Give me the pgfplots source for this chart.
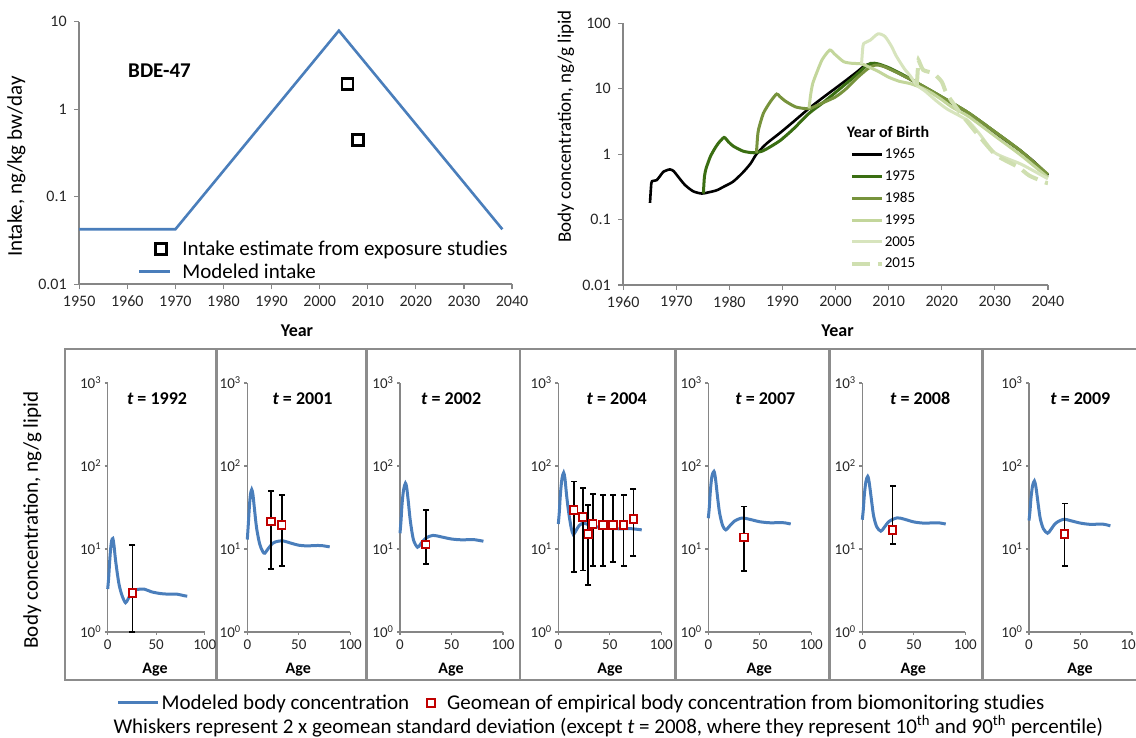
\documentclass[border=0pt]{standalone}
\usepackage{fontspec}
\setmainfont{Carlito}
\usepackage{pgfplots}
\pgfplotsset{compat=1.18}
\newcommand{\tf}{\fontsize{16}{18}\selectfont}
\newcommand{\tfs}{\fontsize{15}{17}\selectfont}
\definecolor{axgray}{HTML}{868686}
\definecolor{framegray}{HTML}{8C8C8C}
\definecolor{mblue}{HTML}{4A7EBB}
\definecolor{mred}{HTML}{C00000}
\definecolor{gA}{HTML}{3A6E12}
\definecolor{gB}{HTML}{77933C}
\definecolor{gC}{HTML}{C3D69B}
\definecolor{gD}{HTML}{D7E4BD}
\definecolor{gE}{HTML}{CFDFB0}
\pgfplotsset{
  every axis/.append style={scale only axis, axis lines*=left,
    axis line style={draw=axgray, line width=1.6pt, -},
    tick style={draw=axgray, line width=1.3pt}, tick align=outside,
    major tick length=5pt, clip=false, ymode=log, yminorticks=false, xminorticks=false,
    xticklabel shift=3pt, yticklabel shift=4pt,
    xticklabel style={text=black!85}, yticklabel style={text=black!85},
    legend cell align=left},
  mycurve/.style={mblue, line width=3pt, smooth, tension=0.5},
  mywhisk/.style={black, line width=1.8pt, mark=-, mark size=3pt, mark options={line width=1.8pt, solid}, unbounded coords=jump},
  mygeo/.style={only marks, mark=square*, mark size=3.8pt, mark options={draw=mred, fill=white, line width=1.8pt}},
  legLine/.style={legend image code/.code={\draw[##1, sharp plot] (0pt,0pt) -- (#1,0pt);}},
  legMark/.style={legend image code/.code={\draw[##1] plot coordinates {(#1,0pt)};}},
  legMarkB/.style={legend image code/.code={\draw[##1] plot coordinates {(5pt,0pt)}; \node[inner sep=0pt, minimum size=0pt, draw=none, fill=none] at (#1,0pt) {};}},
}
\begin{document}
\begin{tikzpicture}
\useasboundingbox (0pt,0pt) rectangle (1136pt,737pt);

% ---------------- top-left: intake ----------------
\begin{axis}[anchor=south west, at={(79.2pt,452.7pt)}, width=432.8pt, height=262.6pt,
  xmin=1950, xmax=2040, ymin=0.01, ymax=10,
  xtick={1950,1960,1970,1980,1990,2000,2010,2020,2030,2040},
  xticklabels={\tf 1950,\tf 1960,\tf 1970,\tf 1980,\tf 1990,\tf 2000,\tf 2010,\tf 2020,\tf 2030,\tf 2040},
  ytick={0.01,0.1,1,10}, yticklabels={\tf 0.01,\tf 0.1,\tf 1,\tf 10},
  legend style={at={(0.135,0.0906)}, anchor=west, draw=none, fill=none, inner sep=0pt,
    font=\fontsize{21}{23}\selectfont, row sep=2.4pt,
    /tikz/every odd column/.append style={column sep=9pt}}]
\addplot[only marks, mark=square, mark size=5.5pt, mark options={line width=2.8pt, black}, legMark=22pt]
  coordinates {(2005.8,1.95) (2008.0,0.447)};
\addlegendentry{Intake estimate from exposure studies}
\addplot[mblue, line width=2.6pt, legLine=31pt]
  coordinates {(1950,0.0425) (1970,0.0425) (2004,7.9) (2038,0.0425)};
\addlegendentry{Modeled intake}
\end{axis}
\node[font=\fontsize{21}{23}\selectfont\bfseries] at (159.5pt,666pt) {BDE-47};
\node[font=\fontsize{18}{20}\selectfont\bfseries] at (297pt,406pt) {Year};
\node[rotate=90, font=\fontsize{21}{23}\selectfont] at (16.5pt,570.3pt) {Intake, ng/kg bw/day};

% ---------------- top-right: body concentration by year of birth ----------------
\begin{axis}[anchor=south west, at={(623.2pt,452pt)}, width=424.7pt, height=261.7pt,
  xmin=1960, xmax=2040, ymin=0.01, ymax=100,
  xtick={1960,1970,1980,1990,2000,2010,2020,2030,2040},
  xticklabels={\tf 1960,\tf 1970,\tf 1980,\tf 1990,\tf 2000,\tf 2010,\tf 2020,\tf 2030,\tf 2040},
  ytick={0.01,0.1,1,10,100}, yticklabels={\tf 0.01,\tf 0.1,\tf 1,\tf 10,\tf 100},
  legend style={at={(0.533,0.2904)}, anchor=west, draw=none, fill=none, inner sep=0pt,
    font=\fontsize{15}{17}\selectfont, row sep=8.4pt, nodes={inner sep=1pt}}]
\addplot[black, line width=2.6pt, smooth, tension=0.4, legLine=30pt] coordinates {
(1965.05,0.18) (1965.3,0.36) (1965.6,0.39) (1966.3,0.40) (1967.0,0.47) (1967.6,0.54)
(1968.8,0.585) (1969.5,0.55) (1970.1,0.48) (1971.6,0.34) (1973.2,0.27) (1974.8,0.25)
(1976.0,0.26) (1977.6,0.28) (1979.0,0.32) (1980.7,0.38) (1982.5,0.52) (1984.0,0.72)
(1985.1,1.0) (1987.0,1.45) (1989.5,2.1) (1992.0,3.1) (1995.0,5.0) (1997.5,7.2)
(2000.0,10.2) (2002.0,13.5) (2004.0,18.0) (2005.5,22.5) (2006.7,24.0) (2008.0,23.5)
(2010.0,20.5) (2012.0,17.0) (2014.0,14.0) (2016.0,11.3) (2018.0,9.2) (2020.0,7.4)
(2022.8,5.4) (2025.0,4.2) (2028.0,2.8) (2031.0,1.85) (2034.7,1.15) (2037.5,0.75) (2040.0,0.47)};
\addlegendentry{1965}
\addplot[gA, line width=3pt, smooth, tension=0.4, legLine=30pt] coordinates {
(1975.1,0.25) (1975.3,0.45) (1975.6,0.6) (1976.4,0.91) (1977.2,1.2) (1977.9,1.46)
(1979.0,1.80) (1979.8,1.55) (1980.7,1.33) (1982.6,1.11) (1984.5,1.05) (1986.0,1.10)
(1987.0,1.20) (1989.5,1.60) (1992.0,2.4) (1995.0,4.2) (1997.5,6.0) (2000.0,8.8)
(2002.0,12.0) (2004.0,16.5) (2005.5,21.5) (2006.7,24.5) (2008.0,24.0) (2010.0,21.0)
(2012.0,17.5) (2014.0,14.3) (2016.0,11.5) (2020.0,7.5) (2025.0,4.3) (2030.0,2.2)
(2035.0,1.1) (2040.0,0.48)};
\addlegendentry{1975}
\addplot[gB, line width=3pt, smooth, tension=0.4, legLine=30pt] coordinates {
(1985.1,1.05) (1985.3,1.8) (1985.5,2.4) (1986.4,4.2) (1987.7,6.3) (1988.9,8.3)
(1989.5,7.6) (1990.5,6.5) (1992.4,5.3) (1994.0,5.0) (1995.2,5.0) (1997.0,5.8)
(2000.0,7.5) (2002.0,10.0) (2004.0,14.5) (2006.0,20.0) (2007.5,23.0) (2009.0,22.0)
(2012.0,17.0) (2016.0,11.5) (2020.0,7.5) (2025.0,4.3) (2030.0,2.2) (2035.0,1.1) (2040.0,0.49)};
\addlegendentry{1985}
\addplot[gC, line width=3pt, smooth, tension=0.4, legLine=30pt] coordinates {
(1995.0,5.0) (1995.3,8) (1995.7,12) (1996.5,18) (1997.5,28) (1998.9,39) (1999.8,34)
(2001.5,26) (2003.0,24.5) (2004.9,24) (2006.0,22) (2008.0,18.5) (2010.0,15) (2012.0,13)
(2014.0,12) (2016.0,10.5) (2018.0,8.7) (2020.0,6.8) (2022.0,5.2) (2025.0,3.8)
(2030.0,1.9) (2035.0,0.95) (2040.0,0.44)};
\addlegendentry{1995}
\addplot[gD, line width=3pt, smooth, tension=0.4, legLine=30pt] coordinates {
(2004.9,24) (2005.1,40) (2005.3,49) (2006.5,55) (2008.0,69) (2009.3,63) (2010.5,45)
(2011.5,31) (2013.0,20) (2014.0,16) (2015.3,11.4) (2017.0,9.0) (2019.0,6.5) (2021.0,4.9)
(2023.0,4.0) (2025.0,3.2) (2027.0,2.1) (2030.0,1.05) (2035.0,0.7) (2040.0,0.42)};
\addlegendentry{2005}
\addplot[gE, line width=4pt, dash pattern=on 18pt off 8pt, smooth, tension=0.4, legLine=30pt] coordinates {
(2015.3,11.0) (2015.5,20) (2015.6,27.5) (2016.5,19.4) (2018.4,17.2) (2020.0,12.8)
(2020.9,8.5) (2023.1,4.7) (2025.0,3.0) (2027.5,1.7) (2030.0,1.0) (2032.0,0.8)
(2034.5,0.63) (2036.5,0.47) (2039.5,0.37) (2040.0,0.36)};
\addlegendentry{2015}
\end{axis}
\node[font=\fontsize{16}{18}\selectfont\bfseries] at (888pt,604.7pt) {Year of Birth};
\node[font=\fontsize{18}{20}\selectfont\bfseries] at (837.6pt,406pt) {Year};
\node[rotate=90, font=\fontsize{19}{21}\selectfont] at (566pt,610.5pt) {Body concentration, ng/g lipid};

% ---------------- bottom frames ----------------
\draw[framegray, line width=2.5pt] (65pt,388pt) rectangle (1140pt,57pt);
\foreach \xx in {216.5,366.7,520,675.5,829.3,982.3}
  \draw[framegray, line width=2.5pt] (\xx pt,388pt) -- (\xx pt,57pt);
\node[rotate=90, font=\fontsize{21}{23}\selectfont] at (32.5pt,217pt) {Body concentration, ng/g lipid};

\begin{scope}
\pgfplotsset{every axis/.append style={anchor=south west, width=103pt, height=249pt,
    xmin=0, xmax=100, ymin=1, ymax=1000,
    xtick={0,50,100}, xticklabels={\tfs 0,\tfs 50,\tfs 100}, ytick={1,10,100,1000},
    yticklabels={\tfs 10\textsuperscript{0},\tfs 10\textsuperscript{1},\tfs 10\textsuperscript{2},\tfs 10\textsuperscript{3}},
    major tick length=3pt, xticklabel shift=1pt, yticklabel shift=0pt}}

% P1: 1992
\begin{axis}[at={(107.7pt,105pt)}, width=97pt,
  legend columns=2,
  legend style={at={(0.0907,-0.2851)}, anchor=west, draw=none, fill=none, inner sep=0pt,
    font=\fontsize{21}{23}\selectfont, /tikz/every even column/.append style={column sep=16pt}}]
\addplot[mycurve, legLine=40pt] coordinates {
(0,3.3) (1,4.5) (2,7) (3,10) (4,12.5) (5.3,13.4) (6.5,11) (8,7.5) (10,5) (12,3.6) (15,2.7)
(18.4,2.25) (21,2.5) (25,3.0) (30,3.25) (37.9,3.28) (45,3.05) (55,2.9) (65,2.85) (72,2.85) (78,2.75) (82,2.7)};
\addlegendentry{Modeled body concentration}
\addplot[mywhisk, forget plot] coordinates {(25.5,1) (25.5,11.1)};
\addplot[mygeo, legMarkB=19pt] coordinates {(25.5,2.95)};
\addlegendentry{Geomean of empirical body concentration from biomonitoring studies}
\end{axis}

% P2: 2001
\begin{axis}[at={(247.3pt,105pt)}]
\addplot[mycurve] coordinates {
(0,13) (1,20) (2,32) (3,45) (4.3,52) (5.5,45) (7,30) (9,18) (12,11.5) (15,9.3) (17,8.9)
(20,10) (25,11.8) (30,12.4) (35,12.5) (42,11.8) (50,11.1) (58,10.9) (65,11) (72,11) (80,10.6)};
\addplot[mywhisk] coordinates {(23,5.8) (23,50) (23,nan) (33.4,6.3) (33.4,45)};
\addplot[mygeo] coordinates {(23,21.5) (33.4,19.4)};
\end{axis}

% P3: 2002
\begin{axis}[at={(400pt,105pt)}]
\addplot[mycurve] coordinates {
(0,15.5) (1,22) (2,35) (3.5,52) (5.3,62) (6.5,55) (8,38) (10,22) (13,13) (17,10.5)
(20,11.5) (25,13.5) (32,14.6) (40,14) (50,13.2) (60,12.9) (70,13) (75,12.8) (81,12.4)};
\addplot[mywhisk] coordinates {(25,6.6) (25,29.4)};
\addplot[mygeo] coordinates {(25,11.3)};
\end{axis}

% P4: 2004
\begin{axis}[at={(558.3pt,105pt)}]
\addplot[mycurve] coordinates {
(0,20) (1,28) (2,45) (3.5,70) (5.2,83) (6.5,70) (8,45) (10,28) (12.5,18) (14.5,15)
(17,16.5) (20,19) (24,20.5) (30,19.5) (40,18.2) (50,17.8) (60,17.5) (70,17.6) (81,17)};
\addplot[mywhisk] coordinates {
(14.9,5.3) (14.9,65) (14.9,nan) (23.6,5.5) (23.6,54) (23.6,nan) (29.1,3.7) (29.1,34) (29.1,nan)
(33.3,6.2) (33.3,46) (33.3,nan) (43.3,6.2) (43.3,45) (43.3,nan) (53,6.9) (53,45) (53,nan)
(63.3,6.2) (63.3,45) (63.3,nan) (73,8.2) (73,52.6)};
\addplot[mygeo] coordinates {(14.9,29.4) (23.6,24.4) (29.1,15.1) (33.3,20) (43.3,19.5) (53,19.5) (63.3,19.5) (73,23)};
\end{axis}

% P5: 2007
\begin{axis}[at={(708.3pt,105pt)}]
\addplot[mycurve] coordinates {
(0,23.5) (1,32) (2,50) (3.5,75) (5.5,86) (7,70) (9,42) (11,27) (14,19) (17,17)
(20,18.5) (25,21.5) (32.5,23.6) (40,22.8) (50,21.3) (60,20.7) (70,20.8) (75,20.6) (80,20)};
\addplot[mywhisk] coordinates {(34.8,5.4) (34.8,32.6)};
\addplot[mygeo] coordinates {(34.8,13.8)};
\end{axis}

% P6: 2008
\begin{axis}[at={(862.3pt,105pt)}]
\addplot[mycurve] coordinates {
(0,22.5) (1,30) (2,45) (3.5,65) (5.3,75) (6.8,62) (9,38) (11,25) (14,18.5) (18,16.4)
(21,18) (26,21.5) (33.7,23.7) (40,23) (50,21.2) (60,20.5) (70,20.7) (75,20.6) (81,20)};
\addplot[mywhisk] coordinates {(29.4,11.6) (29.4,57.5)};
\addplot[mygeo] coordinates {(29.4,16.9)};
\end{axis}

% P7: 2009
\begin{axis}[at={(1029pt,105pt)}]
\addplot[mycurve] coordinates {
(0,22) (1,29) (2,42) (3.5,58) (5.2,66) (6.8,55) (9,34) (11,23) (14,17.5) (18,15.5)
(21,17) (26,20.5) (33.6,22.8) (40,22) (50,20.5) (60,19.8) (70,20) (75,19.6) (79,19)};
\addplot[mywhisk] coordinates {(34.5,6.2) (34.5,35.3)};
\addplot[mygeo] coordinates {(34.5,15.2)};
\end{axis}
\end{scope}

% panel titles and x labels
\foreach \xx/\yr in {157/1992,302.5/2001,451.2/2002,616.7/2004,765.3/2007,920.2/2008,1080.3/2009}
  \node[font=\fontsize{18}{20}\selectfont\bfseries] at (\xx pt,338.7pt) {\textit{t} = \yr};
\foreach \xx in {155,298.3,451,610,759.3,913.3,1080}
  \node[font=\fontsize{16}{18}\selectfont\bfseries] at (\xx pt,67pt) {Age};

\node[anchor=west, font=\fontsize{21}{24}\selectfont] at (110pt,11pt)
  {Whiskers represent 2 x geomean standard deviation (except \textit{t} = 2008, where they represent 10\textsuperscript{th} and 90\textsuperscript{th} percentile)};
\end{tikzpicture}
\end{document}
